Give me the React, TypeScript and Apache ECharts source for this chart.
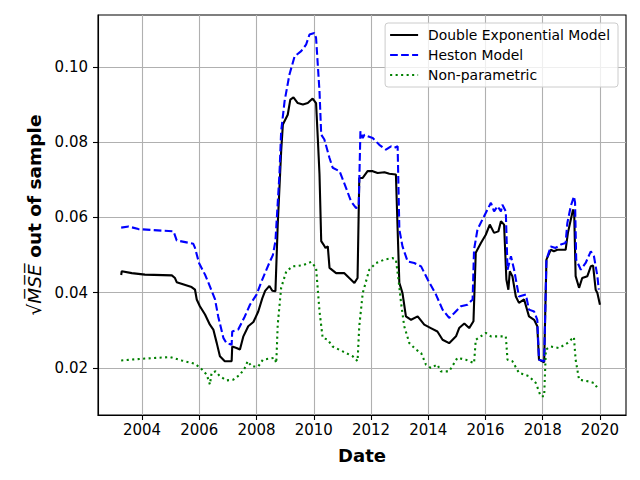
import React, { useEffect, useRef } from "react";
import * as echarts from "echarts";

const seriesNames = ["Double Exponential Model", "Heston Model", "Non-parametric"];

const xTicks = [2004, 2006, 2008, 2010, 2012, 2014, 2016, 2018, 2020];
const yTicks = [0.02, 0.04, 0.06, 0.08, 0.1];

const doubleExp: [number, number][] = [
  [2003.27, 0.0447], [2003.29, 0.0457], [2003.64, 0.0452], [2004.1, 0.0448], [2005.04, 0.0446],
  [2005.15, 0.0439], [2005.21, 0.0428], [2005.73, 0.0415], [2005.85, 0.0408], [2005.91, 0.0382],
  [2006.02, 0.0364], [2006.2, 0.0342], [2006.37, 0.0315], [2006.49, 0.0302], [2006.61, 0.0266],
  [2006.72, 0.0231], [2006.89, 0.0218], [2007.13, 0.0218], [2007.15, 0.0257], [2007.3, 0.0253],
  [2007.42, 0.0249], [2007.54, 0.0284], [2007.71, 0.0311], [2007.89, 0.0322], [2008.06, 0.035],
  [2008.2, 0.0385], [2008.3, 0.0405], [2008.45, 0.0418], [2008.55, 0.0405], [2008.66, 0.0404],
  [2008.74, 0.0581], [2008.86, 0.0776], [2008.92, 0.0847], [2009.09, 0.0873], [2009.18, 0.0913],
  [2009.29, 0.0919], [2009.44, 0.0904], [2009.62, 0.09], [2009.79, 0.0904], [2009.96, 0.0916],
  [2010.08, 0.0904], [2010.14, 0.0811], [2010.2, 0.0714], [2010.26, 0.0537], [2010.34, 0.0528],
  [2010.41, 0.0519], [2010.49, 0.0523], [2010.55, 0.0466], [2010.78, 0.0452], [2011.07, 0.0452],
  [2011.24, 0.0439], [2011.42, 0.0426], [2011.53, 0.0439], [2011.59, 0.0705], [2011.71, 0.0705],
  [2011.88, 0.0723], [2012.06, 0.0723], [2012.23, 0.0718], [2012.47, 0.072], [2012.64, 0.0716],
  [2012.87, 0.0714], [2012.93, 0.0568], [2012.99, 0.0426], [2013.1, 0.0399], [2013.22, 0.0337],
  [2013.4, 0.0328], [2013.63, 0.0337], [2013.86, 0.0315], [2014.09, 0.0306], [2014.32, 0.0297],
  [2014.5, 0.0275], [2014.73, 0.0266], [2014.97, 0.0284], [2015.08, 0.0306], [2015.26, 0.0318],
  [2015.43, 0.0306], [2015.58, 0.0324], [2015.66, 0.0506], [2015.84, 0.0532], [2016.01, 0.0554],
  [2016.15, 0.0581], [2016.3, 0.0559], [2016.45, 0.0563], [2016.54, 0.059], [2016.65, 0.0581],
  [2016.73, 0.0435], [2016.8, 0.0408], [2016.85, 0.0457], [2016.94, 0.0444], [2017.06, 0.039],
  [2017.17, 0.0373], [2017.35, 0.0382], [2017.52, 0.0337], [2017.7, 0.0328], [2017.81, 0.0311],
  [2017.87, 0.0222], [2018.05, 0.0215], [2018.13, 0.0488], [2018.28, 0.0514], [2018.39, 0.051],
  [2018.51, 0.0514], [2018.8, 0.0514], [2018.88, 0.0559], [2018.98, 0.0594], [2019.06, 0.0621],
  [2019.1, 0.0612], [2019.15, 0.0444], [2019.27, 0.0413], [2019.38, 0.0439], [2019.56, 0.0444],
  [2019.68, 0.047], [2019.76, 0.0472], [2019.85, 0.0408], [2019.91, 0.0399], [2020.0, 0.0368],
];

const heston: [number, number][] = [
  [2003.27, 0.0573], [2003.53, 0.0576], [2003.87, 0.0569], [2005.1, 0.0563], [2005.21, 0.0539],
  [2005.79, 0.053], [2005.85, 0.0519], [2005.99, 0.0479], [2006.2, 0.0448], [2006.37, 0.0417],
  [2006.55, 0.0382], [2006.66, 0.0337], [2006.84, 0.028], [2006.95, 0.0266], [2007.13, 0.0262],
  [2007.15, 0.0297], [2007.36, 0.0302], [2007.59, 0.0337], [2007.77, 0.0368], [2008.0, 0.0395],
  [2008.2, 0.0435], [2008.45, 0.048], [2008.57, 0.05], [2008.66, 0.0537], [2008.8, 0.0714],
  [2008.86, 0.0829], [2008.98, 0.0909], [2009.15, 0.098], [2009.33, 0.1028], [2009.56, 0.1042],
  [2009.73, 0.1059], [2009.85, 0.1086], [2010.02, 0.109], [2010.08, 0.1077], [2010.2, 0.0935],
  [2010.26, 0.082], [2010.37, 0.0807], [2010.55, 0.0758], [2010.66, 0.0732], [2010.9, 0.0723],
  [2011.13, 0.0678], [2011.3, 0.0643], [2011.48, 0.0625], [2011.57, 0.063], [2011.63, 0.0829],
  [2011.71, 0.0811], [2011.77, 0.082], [2011.88, 0.0816], [2012.06, 0.0811], [2012.29, 0.0793],
  [2012.52, 0.078], [2012.7, 0.0789], [2012.81, 0.0785], [2012.93, 0.0789], [2012.99, 0.0568],
  [2013.1, 0.0523], [2013.28, 0.0483], [2013.51, 0.0479], [2013.75, 0.047], [2013.98, 0.0435],
  [2014.27, 0.0395], [2014.5, 0.0355], [2014.73, 0.0333], [2014.91, 0.0346], [2015.14, 0.0364],
  [2015.37, 0.0368], [2015.55, 0.0382], [2015.6, 0.0514], [2015.72, 0.0568], [2015.89, 0.0594],
  [2016.07, 0.0621], [2016.19, 0.0639], [2016.3, 0.0616], [2016.42, 0.063], [2016.54, 0.0616],
  [2016.59, 0.0634], [2016.71, 0.0616], [2016.77, 0.0461], [2016.89, 0.0497], [2017.0, 0.0461],
  [2017.17, 0.039], [2017.41, 0.0395], [2017.52, 0.0355], [2017.7, 0.035], [2017.81, 0.0328],
  [2017.87, 0.0222], [2018.05, 0.0218], [2018.13, 0.0488], [2018.28, 0.0523], [2018.45, 0.0519],
  [2018.63, 0.0528], [2018.8, 0.0532], [2018.86, 0.0585], [2018.98, 0.063], [2019.09, 0.0656],
  [2019.13, 0.0639], [2019.17, 0.0488], [2019.33, 0.0461], [2019.5, 0.0479], [2019.68, 0.051],
  [2019.79, 0.0497], [2019.91, 0.0444], [2019.96, 0.0408],
];

const nonParam: [number, number][] = [
  [2003.27, 0.022], [2004.1, 0.0225], [2004.98, 0.0229], [2005.38, 0.022], [2005.85, 0.0211],
  [2006.08, 0.0197], [2006.26, 0.0182], [2006.37, 0.0156], [2006.43, 0.0187], [2006.57, 0.0191],
  [2006.72, 0.0178], [2006.95, 0.0167], [2007.19, 0.0169], [2007.42, 0.0182], [2007.59, 0.02],
  [2007.69, 0.0218], [2007.83, 0.0204], [2008.06, 0.0204], [2008.22, 0.0222], [2008.63, 0.0227],
  [2008.69, 0.0213], [2008.74, 0.0315], [2008.86, 0.0413], [2009.04, 0.0457], [2009.27, 0.047],
  [2009.62, 0.0473], [2009.91, 0.0482], [2010.08, 0.0466], [2010.2, 0.0351], [2010.31, 0.028],
  [2010.49, 0.0275], [2010.66, 0.0257], [2011.01, 0.0244], [2011.36, 0.0231], [2011.53, 0.0218],
  [2011.59, 0.0311], [2011.71, 0.0399], [2011.94, 0.0461], [2012.18, 0.0479], [2012.47, 0.0488],
  [2012.75, 0.0492], [2012.87, 0.0488], [2012.96, 0.0435], [2013.05, 0.0373], [2013.16, 0.0311],
  [2013.34, 0.0266], [2013.57, 0.0249], [2013.75, 0.024], [2013.92, 0.0209], [2014.09, 0.02],
  [2014.32, 0.0209], [2014.44, 0.0191], [2014.73, 0.0191], [2015.02, 0.0227], [2015.31, 0.0222],
  [2015.6, 0.0213], [2015.66, 0.0275], [2016.01, 0.0293], [2016.19, 0.0284], [2016.48, 0.0284],
  [2016.71, 0.0284], [2016.77, 0.0222], [2016.94, 0.0218], [2017.17, 0.0187], [2017.52, 0.0178],
  [2017.76, 0.016], [2017.93, 0.0125], [2018.05, 0.0125], [2018.11, 0.0249], [2018.28, 0.0257],
  [2018.57, 0.0253], [2018.86, 0.0266], [2019.09, 0.0282], [2019.15, 0.0222], [2019.27, 0.0169],
  [2019.62, 0.0164], [2019.79, 0.016], [2019.96, 0.0142],
];

const FONT = "DejaVu Sans";

export default function App() {
  const ref = useRef<HTMLDivElement>(null);
  useEffect(() => {
    if (!ref.current) return;
    const chart = echarts.init(ref.current, undefined, { renderer: "svg" });
    const axisLineStyle = { color: "#000", width: 1.1 };
    chart.setOption({
      animation: false,
      backgroundColor: "#fff",
      grid: {
        left: 98, right: 14, top: 15, bottom: 65,
        show: true, borderColor: "#000", borderWidth: 1.1, backgroundColor: "transparent",
      },
      legend: {
        orient: "vertical",
        right: 22,
        top: 23,
        align: "left",
        itemWidth: 28,
        itemHeight: 14,
        itemGap: 6,
        padding: [5, 8, 5, 4],
        backgroundColor: "rgba(255,255,255,0.8)",
        borderColor: "#cccccc",
        borderWidth: 1,
        borderRadius: 3,
        itemStyle: { opacity: 0 },
        textStyle: { fontFamily: FONT, fontSize: 13.9, color: "#000", padding: [0, 0, 0, 5] },
        data: seriesNames,
      },
      xAxis: {
        type: "value",
        min: 2002.46,
        max: 2020.91,
        name: "Date",
        nameLocation: "middle",
        nameGap: 31,
        nameTextStyle: { fontFamily: FONT, fontSize: 18, fontWeight: "bold", color: "#000" },
        axisLine: { show: true, onZero: false, lineStyle: axisLineStyle },
        axisTick: { show: true, length: 5, customValues: xTicks, lineStyle: axisLineStyle },
        axisLabel: {
          customValues: xTicks,
          margin: 7,
          fontFamily: FONT,
          fontSize: 15,
          color: "#000",
          formatter: (v: number) => String(Math.round(v)),
        },
        splitLine: { show: true, lineStyle: { color: "#b0b0b0", width: 1.1 } },
      },
      yAxis: {
        type: "value",
        min: 0.0075,
        max: 0.1138,
        name: "{r|√}{m|M̅S̅E̅} out of sample",
        nameLocation: "middle",
        nameRotate: 90,
        nameGap: 51,
        nameTextStyle: {
          fontFamily: FONT, fontSize: 18.5, fontWeight: "bold", color: "#000",
          rich: {
            r: { fontFamily: FONT, fontSize: 18.5, fontWeight: "normal", color: "#000" },
            m: { fontFamily: FONT, fontSize: 18.5, fontWeight: "normal", fontStyle: "italic", color: "#000" },
          },
        },
        axisLine: { show: true, onZero: false, lineStyle: axisLineStyle },
        axisTick: { show: true, length: 5, customValues: yTicks, lineStyle: axisLineStyle },
        axisLabel: {
          customValues: yTicks,
          margin: 10,
          fontFamily: FONT,
          fontSize: 15,
          color: "#000",
          formatter: (v: number) => v.toFixed(2),
        },
        splitLine: { show: true, lineStyle: { color: "#b0b0b0", width: 1.1 } },
      },
      series: [
        {
          name: seriesNames[0], type: "line", data: doubleExp, showSymbol: false, symbol: "none",
          lineStyle: { color: "#000000", width: 2.1 }, itemStyle: { color: "#000000" }, z: 3,
        },
        {
          name: seriesNames[1], type: "line", data: heston, showSymbol: false, symbol: "none",
          lineStyle: { color: "#0000ff", width: 2.1, type: [7.7, 3.3] }, itemStyle: { color: "#0000ff" }, z: 4,
        },
        {
          name: seriesNames[2], type: "line", data: nonParam, showSymbol: false, symbol: "none",
          lineStyle: { color: "#008000", width: 2.1, type: [2.1, 3.4] }, itemStyle: { color: "#008000" }, z: 5,
        },
      ],
    });
    return () => chart.dispose();
  }, []);
  return (
    <div
      ref={ref}
      style={{ position: "fixed", left: 0, top: 0, width: 640, height: 480, background: "#fff" }}
    />
  );
}
